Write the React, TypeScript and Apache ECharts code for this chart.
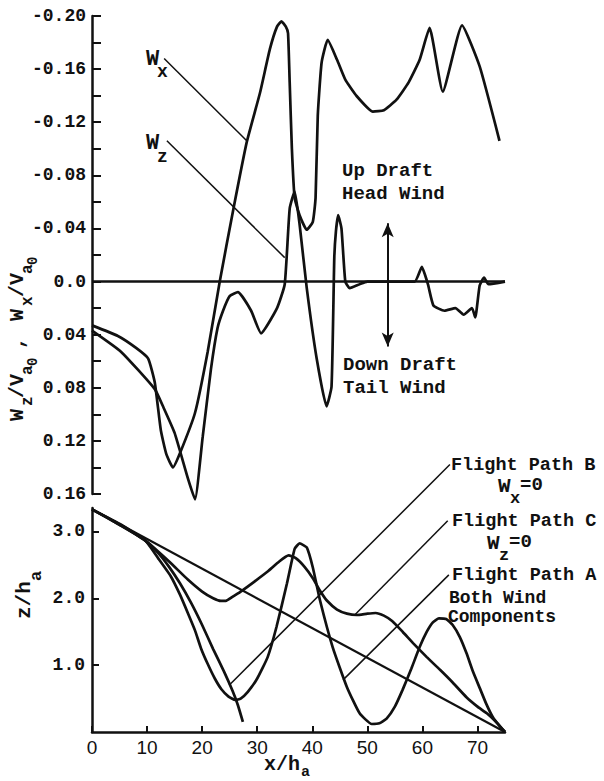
import React, { useEffect, useRef } from "react";
import * as echarts from "echarts";

// ---------- Top panel: wind components (x/h_a, W/V_a0) ----------
const windX: number[][] = [
  [0, 0.033], [4.7, 0.041], [8, 0.05], [10.2, 0.058], [11.4, 0.076], [12.5, 0.112], [13.5, 0.13],
  [14.7, 0.14], [16, 0.129], [18.7, 0.099], [21, 0.053], [23.2, 0.0], [25.6, -0.053], [28.1, -0.105],
  [30.5, -0.142], [32.3, -0.175], [33.6, -0.192], [34.4, -0.196], [35.2, -0.192], [35.6, -0.187],
  [35.9, -0.15], [36.3, -0.1], [36.8, -0.063], [37.7, -0.05], [39, -0.039], [40.1, -0.045],
  [40.6, -0.063], [41, -0.125], [41.7, -0.165], [42.8, -0.182], [44.5, -0.167], [46, -0.152],
  [48, -0.14], [51, -0.128], [53, -0.129], [55.3, -0.137], [57.5, -0.15], [59.5, -0.167],
  [61.3, -0.191], [63.7, -0.143], [67.2, -0.193], [70.4, -0.162], [74, -0.106],
];
const windZ: number[][] = [
  [0, 0.037], [5.3, 0.053], [11.4, 0.081], [13, 0.095], [15, 0.114], [17.4, 0.148], [18.7, 0.164],
  [20.1, 0.117], [21.6, 0.066], [22.8, 0.035], [23.8, 0.022], [25, 0.011], [26.5, 0.008], [28.9, 0.022],
  [30.7, 0.039], [33.6, 0.02], [35, 0.002], [35.9, -0.055], [36.8, -0.068], [37.7, -0.043], [39, 0.005],
  [40.8, 0.058], [42.6, 0.094], [43.5, 0.079], [44, -0.018], [44.3, -0.038], [44.7, -0.05], [45.3, -0.04],
  [46, 0.0], [46.8, 0.005], [48.6, 0.002], [50, 0.0], [58.6, 0.0], [59.9, -0.011], [61, 0.002],
  [62, 0.018], [64, 0.022], [66, 0.02], [67.5, 0.025], [69, 0.02], [69.6, 0.027], [70.4, 0.003],
  [71.2, -0.003], [72, 0.002], [75, 0.0],
];
const zeroLine: number[][] = [[0, 0], [75, 0]];
const leaderWx: number[][] = [[13.1, -0.168], [28.1, -0.106]];
const leaderWz: number[][] = [[13.6, -0.106], [35, -0.018]];
const draftArrow = { x: 53.7, from: -0.044, to: 0.049 };

// ---------- Bottom panel: flight paths (x/h_a, z/h_a) ----------
const pathDirect: number[][] = [[0, 3.33], [75, 0]];
const pathA: number[][] = [
  [0, 3.33], [5.3, 3.1], [10, 2.84], [14, 2.55], [17.4, 2.28], [20, 2.1], [22, 2.0], [23.4, 1.96],
  [24.3, 1.96], [25.5, 2.02], [27, 2.1], [29.5, 2.25], [31.9, 2.4], [34, 2.55], [35.7, 2.64],
  [37, 2.6], [38.6, 2.47], [40.1, 2.3], [41.5, 2.1], [42.6, 1.97], [44.5, 1.83], [46.3, 1.77],
  [48.1, 1.75], [50, 1.77], [51.5, 1.78], [53, 1.74], [54.5, 1.66], [56.4, 1.5], [58.3, 1.33],
  [60.8, 1.12], [63.2, 0.93], [65.5, 0.74], [68, 0.52], [70, 0.38], [71.7, 0.28], [73.5, 0.14], [75, 0],
];
const pathB: number[][] = [
  [0, 3.33], [5, 3.1], [9.6, 2.87], [12, 2.6], [14.3, 2.33], [16, 2.05], [17.4, 1.78], [18.7, 1.52],
  [19.8, 1.25], [21, 1.02], [22.3, 0.8], [23.5, 0.64], [24.8, 0.53], [26, 0.48], [27, 0.5], [28.3, 0.6],
  [30, 0.8], [31.9, 1.12], [33.5, 1.57], [35.4, 2.22], [36.8, 2.74], [37.7, 2.82], [39, 2.76],
  [40.1, 2.46], [41.4, 1.97], [43.7, 1.27], [46.3, 0.67], [48.6, 0.28], [50.8, 0.12], [52.2, 0.13],
  [53.5, 0.2], [55, 0.38], [56.4, 0.63], [58, 0.95], [59.5, 1.27], [60.8, 1.5], [61.9, 1.64], [63, 1.7],
  [64.3, 1.69], [65.5, 1.6], [66.8, 1.42], [68, 1.18], [69.2, 0.9], [70.4, 0.66], [71.6, 0.42],
  [72.8, 0.22], [74, 0.09], [75, 0],
];
const pathC: number[][] = [
  [0, 3.33], [5, 3.1], [9.6, 2.87], [12, 2.68], [14, 2.47], [16, 2.22], [18, 1.93], [20, 1.6],
  [22, 1.24], [24, 0.9], [25.5, 0.62], [26.5, 0.4], [27.4, 0.15],
];
const leaderB: number[][] = [[24.9, 0.7], [65, 4.0]];
const leaderC: number[][] = [[47.7, 1.75], [64.6, 3.16]];
const leaderA: number[][] = [[45.6, 0.78], [64.8, 2.35]];

const xTickValues = [0, 10, 20, 30, 40, 50, 60, 70];
const zTickValues = [1, 2, 3];

const INK = "#111";
const MONO = "Liberation Mono";

function curve(data: number[][], grid: number, width = 2.7, smooth: number | boolean = 0.15) {
  return {
    type: "line",
    xAxisIndex: grid,
    yAxisIndex: grid,
    data,
    symbol: "none",
    showSymbol: false,
    smooth,
    clip: false,
    silent: true,
    lineStyle: { color: INK, width },
    emphasis: { disabled: true },
  };
}

function txt(x: number, y: number, text: string, size = 19, extra: any = {}) {
  return {
    type: "text",
    x,
    y,
    silent: true,
    style: {
      text,
      fill: INK,
      font: `bold ${size}px "${MONO}"`,
      align: "left",
      verticalAlign: "middle",
      ...extra,
    },
  };
}

export default function App() {
  const ref = useRef<HTMLDivElement>(null);

  useEffect(() => {
    document.body.style.margin = "0";
    if (!ref.current) return;
    const chart = echarts.init(ref.current, undefined, { renderer: "svg" });

    const topLabel = (v: number) => {
      const r = Math.round(v * 100);
      if (r % 4 !== 0) return "";
      if (r === 0) return "0.0";
      return v.toFixed(2);
    };

    const option: any = {
      animation: false,
      backgroundColor: "#fff",
      grid: [
        { left: 92, top: 16, width: 413, height: 478 },
        { left: 92, top: 508, width: 413, height: 224 },
      ],
      xAxis: [
        { gridIndex: 0, type: "value", min: 0, max: 75, show: false },
        {
          gridIndex: 1,
          type: "value",
          min: 0,
          max: 75,
          interval: 10,
          axisLine: { show: true, onZero: false, lineStyle: { color: INK, width: 2.5 } },
          axisTick: { show: true, inside: true, length: 6, customValues: xTickValues, lineStyle: { color: INK, width: 2 } },
          axisLabel: {
            customValues: xTickValues,
            color: INK,
            fontFamily: "Liberation Sans",
            fontSize: 19,
            margin: 6,
          },
          splitLine: { show: false },
        },
      ],
      yAxis: [
        {
          gridIndex: 0,
          type: "value",
          inverse: true,
          min: -0.2,
          max: 0.16,
          interval: 0.02,
          axisLine: { show: true, onZero: false, lineStyle: { color: INK, width: 2.5 } },
          axisTick: { show: true, inside: true, length: 9, lineStyle: { color: INK, width: 2 } },
          axisLabel: {
            formatter: topLabel,
            color: INK,
            fontFamily: MONO,
            fontWeight: "bold",
            fontSize: 18,
            margin: 6,
          },
          splitLine: { show: false },
        },
        {
          gridIndex: 1,
          type: "value",
          min: 0,
          max: 3.35,
          axisLine: { show: true, onZero: false, lineStyle: { color: INK, width: 2.5 } },
          axisTick: { show: true, inside: true, length: 7, customValues: zTickValues, lineStyle: { color: INK, width: 2 } },
          axisLabel: {
            customValues: zTickValues,
            formatter: (v: number) => v.toFixed(1),
            color: INK,
            fontFamily: MONO,
            fontWeight: "bold",
            fontSize: 18,
            margin: 7,
          },
          splitLine: { show: false },
        },
      ],
      series: [
        {
          ...curve(zeroLine, 0, 2.4, false),
          markLine: {
            silent: true,
            symbol: ["arrow", "arrow"],
            symbolSize: [9, 14],
            label: { show: false },
            emphasis: { disabled: true },
            lineStyle: { color: INK, width: 2, type: "solid" },
            data: [[{ coord: [draftArrow.x, draftArrow.from] }, { coord: [draftArrow.x, draftArrow.to] }]],
          },
        },
        curve(windX, 0),
        curve(windZ, 0),
        curve(leaderWx, 0, 1.5, false),
        curve(leaderWz, 0, 1.5, false),
        curve(pathDirect, 1, 2.2, false),
        curve(pathA, 1),
        curve(pathB, 1),
        curve(pathC, 1),
        curve(leaderB, 1, 1.5, false),
        curve(leaderC, 1, 1.5, false),
        curve(leaderA, 1, 1.5, false),
      ],
      graphic: [
        // curve labels (top)
        txt(146, 59, "W", 22),
        txt(157, 72, "x", 18),
        txt(146, 143, "W", 22),
        txt(157, 157, "z", 18),
        txt(342, 182, "Up Draft\nHead Wind", 19, { lineHeight: 23 }),
        txt(343, 376, "Down Draft\nTail Wind", 19, { lineHeight: 23 }),
        // flight path labels (bottom)
        txt(451, 465, "Flight Path B", 18.5),
        txt(498, 486, "W", 21),
        txt(510, 498, "x", 17),
        txt(520, 485, "=0", 19),
        txt(452, 521, "Flight Path C", 18.5),
        txt(487, 543, "W", 21),
        txt(499, 555, "z", 17),
        txt(509, 542, "=0", 19),
        txt(452, 575, "Flight Path A", 18.5),
        txt(449, 598, "Both Wind", 18),
        txt(448, 617, "Components", 18),
        // top y axis title (rotated)
        {
          type: "group",
          x: 17,
          y: 421,
          rotation: Math.PI / 2,
          silent: true,
          children: [
            txt(0, 0, "W", 20),
            txt(15, 11, "z", 16),
            txt(23, 0, "/V", 20),
            txt(46, 11, "a", 16),
            txt(55, 16, "0", 14),
            txt(72, 0, ",", 20),
            txt(100, 0, "W", 20),
            txt(115, 11, "x", 16),
            txt(124, 0, "/V", 20),
            txt(147, 11, "a", 16),
            txt(156, 16, "0", 14),
          ],
        },
        // bottom y axis title (rotated)
        {
          type: "group",
          x: 24,
          y: 619,
          rotation: Math.PI / 2,
          silent: true,
          children: [txt(0, 0, "z/h", 21), txt(38, 12, "a", 17)],
        },
        // x axis title
        txt(264, 764, "x/h", 20),
        txt(301, 772, "a", 15),
      ],
    };

    chart.setOption(option);
    return () => chart.dispose();
  }, []);

  return <div ref={ref} style={{ width: 604, height: 781 }} />;
}
